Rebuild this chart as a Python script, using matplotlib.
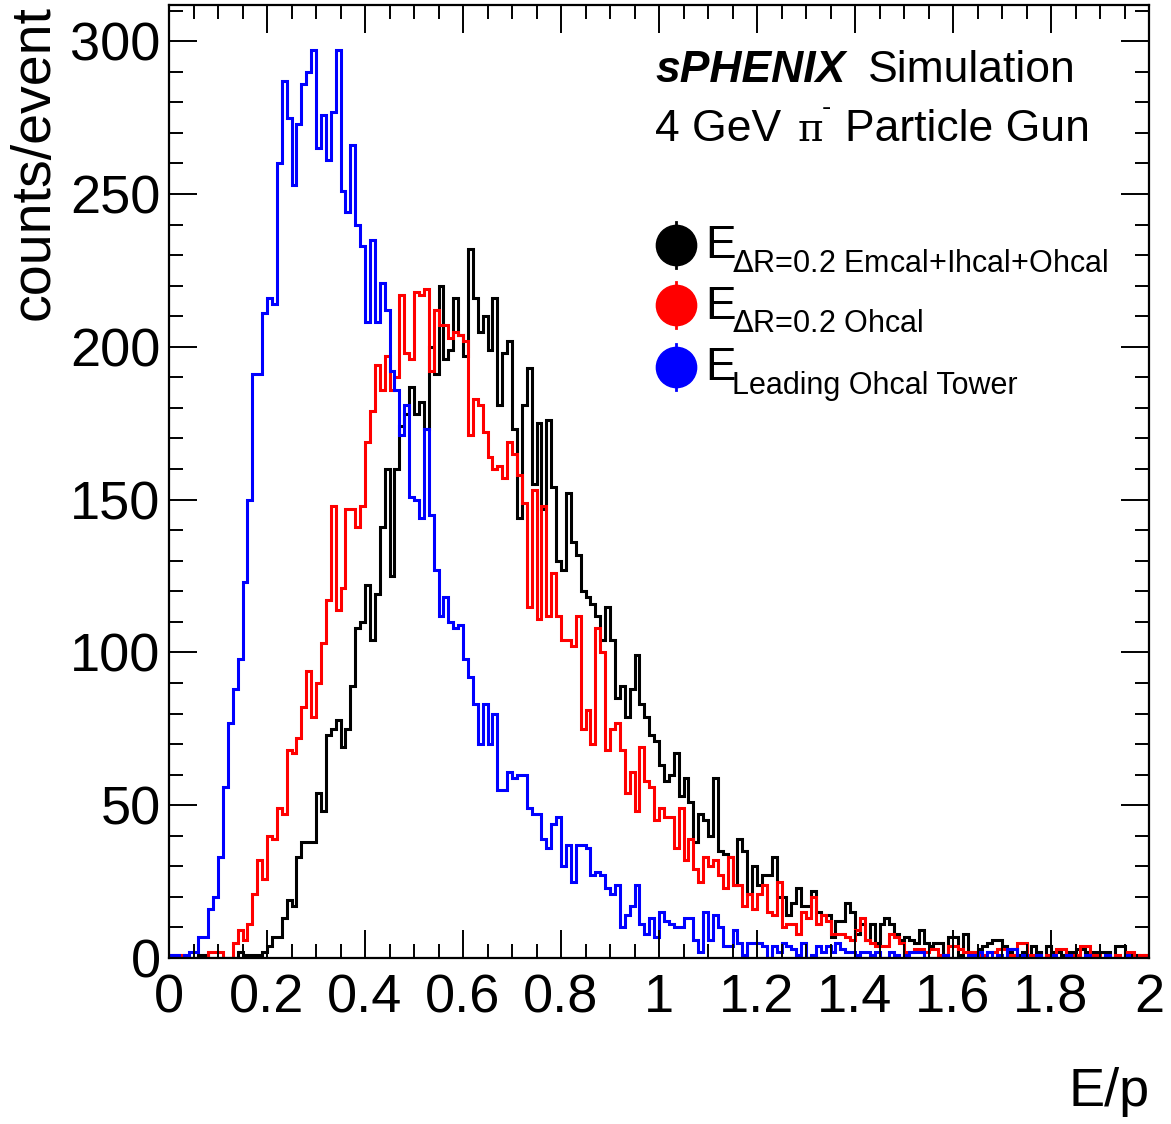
import numpy as np
import matplotlib
matplotlib.use("Agg")
import matplotlib.pyplot as plt

plt.rcParams['font.family'] = ['Liberation Sans', 'DejaVu Sans']

# E/p histograms, 200 bins from 0 to 2 (counts per bin)
bin_edges = np.linspace(0, 2, 201)

e_total = [
    0, 0, 0, 0, 0, 0, 1, 1, 0, 0, 0, 0, 0, 0, 2, 1, 1, 1, 1, 2,
    4, 7, 7, 13, 19, 17, 33, 38, 38, 38, 54, 48, 73, 75, 78, 69, 75, 89, 108, 110,
    122, 104, 119, 141, 160, 125, 160, 174, 178, 187, 178, 182, 173, 200, 191, 220, 196, 199, 216, 204,
    197, 232, 216, 205, 210, 199, 216, 181, 198, 202, 173, 144, 181, 193, 155, 175, 147, 176, 154, 130,
    127, 152, 136, 132, 120, 118, 116, 112, 104, 115, 104, 85, 89, 79, 88, 99, 83, 79, 73, 71,
    63, 58, 60, 67, 53, 59, 51, 38, 47, 45, 40, 59, 35, 34, 33, 24, 39, 35, 21, 30,
    24, 27, 27, 33, 20, 20, 14, 18, 23, 17, 17, 22, 15, 14, 14, 7, 12, 12, 18, 15,
    8, 11, 6, 11, 5, 11, 13, 11, 8, 6, 7, 6, 5, 9, 5, 4, 5, 5, 1, 7,
    7, 1, 8, 2, 1, 3, 4, 5, 6, 6, 4, 2, 3, 1, 2, 0, 4, 2, 0, 4,
    2, 2, 1, 2, 2, 3, 3, 2, 2, 2, 2, 2, 0, 4, 4, 0, 1, 1, 0, 1,
]

e_ohcal = [
    1, 1, 1, 0, 0, 0, 0, 0, 2, 2, 2, 0, 0, 5, 9, 6, 11, 21, 32, 26,
    40, 39, 49, 47, 68, 67, 72, 82, 94, 79, 90, 103, 117, 148, 114, 121, 147, 147, 141, 148,
    169, 179, 194, 186, 197, 186, 190, 217, 198, 196, 218, 217, 219, 192, 212, 207, 207, 203, 205, 204,
    202, 171, 183, 181, 172, 164, 160, 161, 157, 169, 165, 158, 149, 115, 153, 111, 148, 112, 126, 112,
    104, 104, 102, 112, 75, 81, 70, 108, 100, 68, 75, 77, 68, 54, 61, 48, 69, 58, 56, 45,
    49, 46, 46, 36, 49, 32, 39, 29, 25, 33, 30, 32, 27, 23, 33, 24, 24, 17, 21, 16,
    21, 24, 15, 14, 25, 10, 11, 11, 8, 15, 13, 20, 11, 14, 12, 8, 8, 8, 7, 6,
    9, 13, 6, 5, 4, 4, 4, 8, 7, 5, 2, 2, 3, 3, 2, 3, 3, 1, 1, 4,
    4, 3, 2, 2, 2, 1, 1, 2, 2, 3, 3, 1, 1, 5, 5, 1, 1, 1, 0, 1,
    0, 3, 3, 0, 1, 1, 4, 4, 1, 1, 0, 1, 0, 1, 0, 2, 2, 0, 1, 1,
]

e_leading = [
    1, 1, 0, 1, 2, 2, 7, 7, 16, 20, 33, 56, 77, 88, 98, 123, 150, 191, 191, 211,
    216, 214, 260, 287, 275, 253, 273, 286, 290, 297, 265, 276, 261, 277, 297, 251, 244, 266, 240, 233,
    208, 235, 208, 221, 212, 192, 186, 171, 181, 151, 150, 144, 173, 145, 127, 112, 118, 110, 108, 109,
    98, 92, 83, 70, 83, 70, 80, 55, 55, 61, 59, 60, 60, 49, 47, 47, 39, 36, 44, 46,
    30, 37, 25, 37, 37, 36, 27, 28, 27, 23, 21, 24, 10, 14, 17, 24, 11, 8, 13, 7,
    15, 12, 11, 10, 10, 13, 13, 6, 2, 15, 6, 14, 10, 4, 4, 9, 5, 1, 5, 5,
    5, 4, 0, 4, 2, 5, 4, 3, 1, 5, 0, 1, 4, 2, 4, 2, 5, 3, 2, 2,
    1, 2, 2, 1, 2, 0, 0, 2, 1, 0, 1, 2, 2, 2, 0, 0, 0, 0, 1, 0,
    0, 0, 0, 1, 1, 2, 0, 2, 0, 1, 0, 3, 3, 0, 1, 0, 0, 1, 0, 0,
    1, 0, 0, 1, 0, 0, 0, 1, 0, 0, 0, 1, 0, 0, 0, 1, 0, 0, 0, 0,
]

series = [
    (e_total, 'black', r'$\Delta$R=0.2 Emcal+Ihcal+Ohcal'),
    (e_ohcal, 'red', r'$\Delta$R=0.2 Ohcal'),
    (e_leading, 'blue', 'Leading Ohcal Tower'),
]

xtick_vals = [0, 0.2, 0.4, 0.6, 0.8, 1.0, 1.2, 1.4, 1.6, 1.8, 2.0]
xtick_labels = ['0', '0.2', '0.4', '0.6', '0.8', '1', '1.2', '1.4', '1.6', '1.8', '2']
ytick_vals = [0, 50, 100, 150, 200, 250, 300]

W, H = 1171, 1124
fig = plt.figure(figsize=(W / 100, H / 100), dpi=100)
ax = fig.add_axes([169 / W, 1 - 958 / H, 980 / W, 953 / H])

for vals, col, _ in series:
    ax.stairs(vals, bin_edges, color=col, linewidth=2.2, baseline=None)

ax.set_xlim(0, 2)
ax.set_ylim(0, 1.05 * max(e_leading))

ax.set_xticks(xtick_vals)
ax.set_xticklabels(xtick_labels)
ax.set_xticks(np.arange(0, 2.001, 0.05), minor=True)
ax.set_yticks(ytick_vals)
ax.set_yticklabels([str(v) for v in ytick_vals])
ax.set_yticks(np.arange(0, 311, 10), minor=True)

ax.tick_params(which='both', direction='in', top=True, right=True, width=1.4)
ax.tick_params(which='major', length=20, labelsize=39)
ax.tick_params(which='minor', length=10)
ax.tick_params(axis='x', pad=11)
ax.tick_params(axis='y', pad=6)
for s in ax.spines.values():
    s.set_linewidth(1.6)

fig.text(1150 / W, 1 - 1092 / H, 'E/p', ha='right', va='center', fontsize=39)
fig.text(35 / W, 1 - 5 / H, 'counts/event', rotation=90, ha='center', va='top', fontsize=40)

# header text
ax.text(0.496, 0.919, 'sPHENIX', transform=ax.transAxes, fontsize=32,
        fontweight='bold', fontstyle='italic', va='baseline')
ax.text(0.713, 0.919, 'Simulation', transform=ax.transAxes, fontsize=32, va='baseline')
ax.text(0.496, 0.857, '4 GeV', transform=ax.transAxes, fontsize=32, va='baseline')
ax.text(0.641, 0.857, 'π', transform=ax.transAxes, fontsize=28, va='baseline',
        family='DejaVu Serif')
ax.text(0.666, 0.885, '-', transform=ax.transAxes, fontsize=20, va='baseline')
ax.text(0.690, 0.857, 'Particle Gun', transform=ax.transAxes, fontsize=32, va='baseline')

# legend: filled markers with vertical bars
leg_y = [0.748, 0.685, 0.620]
for (vals, col, sub), y in zip(series, leg_y):
    ax.plot([0.5173, 0.5173], [y - 0.024, y + 0.024], color=col, lw=2,
            transform=ax.transAxes, clip_on=False)
    ax.plot([0.5173], [y], 'o', color=col, markersize=29,
            transform=ax.transAxes, clip_on=False)
    ax.text(0.547, y - 0.014, 'E', transform=ax.transAxes, fontsize=33, va='baseline')
    ax.text(0.5745, y - 0.028, sub, transform=ax.transAxes, fontsize=22, va='baseline')

fig.savefig('out.png', dpi=100)
